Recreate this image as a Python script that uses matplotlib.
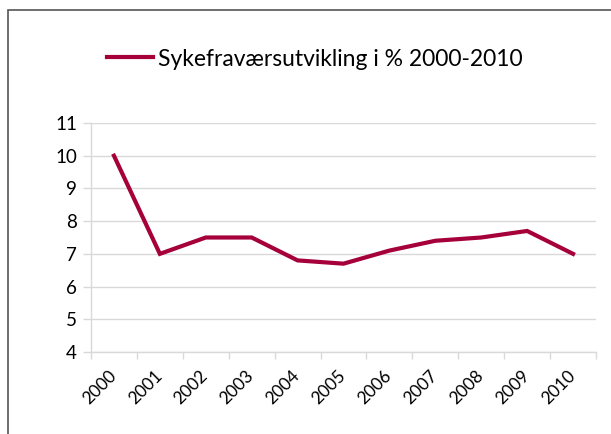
import matplotlib.pyplot as plt
import matplotlib.patches as patches
import matplotlib.transforms as mtransforms
import numpy as np

plt.rcParams['font.family'] = ['Lato', 'DejaVu Sans']

years = ['2000', '2001', '2002', '2003', '2004', '2005',
         '2006', '2007', '2008', '2009', '2010']
sykefravaer = [10, 7, 7.5, 7.5, 6.8, 6.7, 7.1, 7.4, 7.5, 7.7, 7.0]
yticks = [4, 5, 6, 7, 8, 9, 10, 11]

line_col = '#A6003A'
grid_col = '#D9D9D9'

fig = plt.figure(figsize=(6.11, 4.34), dpi=100)
ax = fig.add_axes([91/611, 1 - 352/434, 505/611, 229/434])

x = np.arange(len(years))
ax.plot(x, sykefravaer, color=line_col, lw=3, solid_joinstyle='miter',
        label='Sykefraværsutvikling i % 2000-2010')

ax.set_xlim(-0.5, len(years) - 0.5)
ax.set_ylim(4, 11)
ax.set_yticks(yticks)
ax.set_yticklabels([str(v) for v in yticks], fontsize=13.5)
ax.yaxis.grid(True, color=grid_col, lw=1)
ax.set_axisbelow(True)

# category boundaries as tick marks, labels centred on categories
ax.set_xticks(np.arange(len(years) + 1) - 0.5)
ax.set_xticklabels([])
ax.set_xticks(x, minor=True)
ax.set_xticklabels(years, minor=True, fontsize=12.5, rotation=45,
                   ha='right', va='top', rotation_mode='anchor')
ax.tick_params(axis='x', which='minor', length=0, pad=11)
ax.tick_params(axis='x', which='major', length=5, color=grid_col, width=1)
ax.tick_params(axis='y', length=6, color=grid_col, width=1, pad=4)
shift = mtransforms.ScaledTranslation(-6/100, 0, fig.dpi_scale_trans)
for lbl in ax.get_xticklabels(minor=True):
    lbl.set_transform(lbl.get_transform() + shift)

for s in ['top', 'right']:
    ax.spines[s].set_visible(False)
for s in ['left', 'bottom']:
    ax.spines[s].set_color(grid_col)
    ax.spines[s].set_linewidth(1)

fig.legend(loc='center', bbox_to_anchor=(315/611, 1 - 59/434), frameon=False,
           fontsize=16.5, handlelength=2.0, handletextpad=0.25)

# chart frame (cut off on right and bottom)
fig.patches.append(patches.Rectangle((8/611, -0.1), 1.1, 1.1 - 10/434,
                                     transform=fig.transFigure, fill=False,
                                     edgecolor='#555555', lw=1.2))

fig.savefig('out.png', dpi=100)
